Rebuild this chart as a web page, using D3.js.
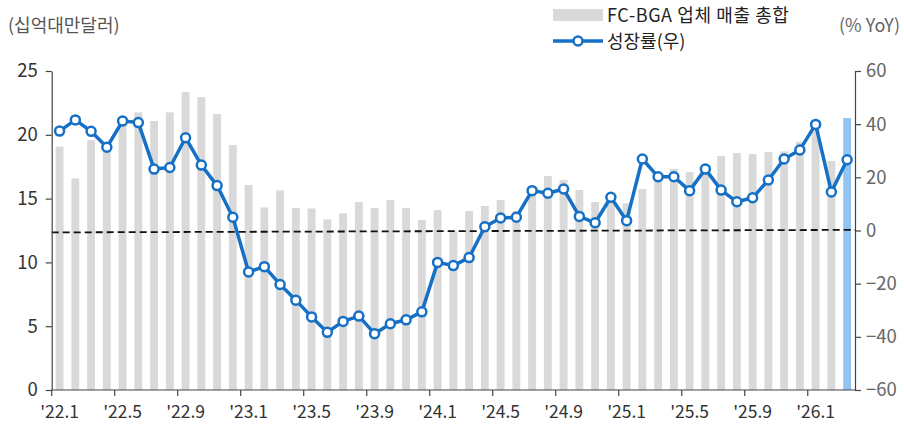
<!DOCTYPE html>
<html>
<head>
<meta charset="utf-8">
<script src="https://cdn.jsdelivr.net/npm/d3@7"></script>
<style>
  body { margin: 0; background: #fff; }
  svg text { font-family: "Noto Sans CJK KR", "Noto Sans", sans-serif; }
</style>
</head>
<body>
<svg id="chart" width="904" height="425"></svg>
<script>
// monthly categories '22.1 ~ '26.3
const months = [
  "'22.1","'22.2","'22.3","'22.4","'22.5","'22.6","'22.7","'22.8","'22.9","'22.10","'22.11","'22.12",
  "'23.1","'23.2","'23.3","'23.4","'23.5","'23.6","'23.7","'23.8","'23.9","'23.10","'23.11","'23.12",
  "'24.1","'24.2","'24.3","'24.4","'24.5","'24.6","'24.7","'24.8","'24.9","'24.10","'24.11","'24.12",
  "'25.1","'25.2","'25.3","'25.4","'25.5","'25.6","'25.7","'25.8","'25.9","'25.10","'25.11","'25.12",
  "'26.1","'26.2","'26.3"
];

// FC-BGA 업체 매출 총합 (십억대만달러)
const sales = [
  19.07, 16.59, 19.59, 19.3, 21.0, 21.76, 21.08, 21.76, 23.35, 22.96, 21.63, 19.2,
  16.07, 14.31, 15.64, 14.26, 14.23, 13.37, 13.85, 14.73, 14.26, 14.89, 14.26, 13.32,
  14.1, 12.42, 14.03, 14.42, 14.89, 14.03, 15.93, 16.77, 16.46, 15.67, 14.73, 15.0,
  14.63, 15.75, 16.85, 17.32, 17.08, 17.27, 18.34, 18.57, 18.49, 18.65, 18.7, 19.44,
  20.47, 17.95, 21.31
];

// 성장률 (% YoY)
const growth = [
  37.4, 41.6, 37.3, 31.3, 41.2, 40.6, 23.1, 23.7, 34.9, 24.6, 16.9, 5.0,
  -15.6, -13.6, -20.3, -26.2, -32.5, -38.3, -34.2, -32.2, -38.8, -35.1, -33.6, -30.6,
  -12.0, -13.2, -10.2, 1.4, 4.7, 5.0, 15.0, 14.0, 15.6, 5.3, 2.9, 12.5,
  3.7, 26.9, 20.2, 20.2, 15.0, 23.1, 15.2, 10.8, 12.3, 19.0, 26.9, 30.3,
  39.9, 14.5, 26.6
];

const xTickLabels = ["'22.1","'22.5","'22.9","'23.1","'23.5","'23.9","'24.1","'24.5","'24.9","'25.1","'25.5","'25.9","'26.1"];
const leftTicks = [0, 5, 10, 15, 20, 25];
const rightTicks = [-60, -40, -20, 0, 20, 40, 60];
// dashed reference line (left axis units, first and last month)
const refLine = [12.35, 12.55];

const svg = d3.select("#chart");
const mLeft = 51.7, mRight = 855, mTop = 71, mBottom = 390;

const x = d3.scaleBand().domain(months).range([mLeft, mRight])
  .paddingInner(0.5).paddingOuter(0.25);
const step = x.step();
const yL = d3.scaleLinear().domain([0, 25]).range([mBottom, mTop]);
const yR = d3.scaleLinear().domain([-60, 60]).range([mBottom, mTop]);
const cx = (m) => x(m) + x.bandwidth() / 2;

// bars
svg.append("g")
  .selectAll("rect")
  .data(sales)
  .join("rect")
  .attr("x", (d, i) => x(months[i]))
  .attr("y", (d) => yL(d))
  .attr("width", x.bandwidth())
  .attr("height", (d) => yL(0) - yL(d))
  .attr("fill", (d, i) => (i === sales.length - 1 ? "#92c4f2" : "#d9d9d9"));

// dashed line
svg.append("line")
  .attr("x1", mLeft).attr("x2", mRight)
  .attr("y1", yL(refLine[0])).attr("y2", yL(refLine[1]))
  .attr("stroke", "#111").attr("stroke-width", 1.8)
  .attr("stroke-dasharray", "7,4");

// left axis
const gL = svg.append("g").attr("transform", `translate(${mLeft},0)`)
  .call(d3.axisLeft(yL).tickValues(leftTicks).tickSize(6).tickPadding(8).tickSizeOuter(0));
gL.selectAll("text").attr("font-size", 18.5).attr("fill", "#333");

// right axis
const gR = svg.append("g").attr("transform", `translate(${mRight},0)`)
  .call(d3.axisRight(yR).tickValues(rightTicks).tickSize(6).tickPadding(5).tickSizeOuter(0));
gR.selectAll("text").attr("font-size", 18.5).attr("fill", "#666");

[gL, gR].forEach((g) => {
  g.select(".domain").attr("stroke", "#444").attr("stroke-width", 1.2);
  g.selectAll(".tick line").attr("stroke", "#444").attr("stroke-width", 1.2);
});

// bottom axis: ticks at band boundaries, labels at bar centres
const gB = svg.append("g");
gB.append("line")
  .attr("x1", mLeft).attr("x2", mRight)
  .attr("y1", mBottom).attr("y2", mBottom)
  .attr("stroke", "#444").attr("stroke-width", 1.2);
gB.selectAll(".xt")
  .data(xTickLabels)
  .join("line")
  .attr("class", "xt")
  .attr("x1", (d) => cx(d) - step / 2).attr("x2", (d) => cx(d) - step / 2)
  .attr("y1", mBottom).attr("y2", mBottom + 6)
  .attr("stroke", "#444").attr("stroke-width", 1.2);
gB.selectAll(".xl")
  .data(xTickLabels)
  .join("text")
  .attr("class", "xl")
  .attr("x", (d) => cx(d))
  .attr("y", 418)
  .attr("text-anchor", "middle")
  .attr("font-size", 17.5)
  .attr("fill", "#333")
  .text((d) => d);

// growth line
const line = d3.line().x((d, i) => cx(months[i])).y((d) => yR(d));
svg.append("path")
  .datum(growth)
  .attr("d", line)
  .attr("fill", "none")
  .attr("stroke", "#1570c6")
  .attr("stroke-width", 3.5)
  .attr("stroke-linejoin", "round");

svg.append("g")
  .selectAll("circle")
  .data(growth)
  .join("circle")
  .attr("cx", (d, i) => cx(months[i]))
  .attr("cy", (d) => yR(d))
  .attr("r", 4.5)
  .attr("fill", "#fff")
  .attr("stroke", "#1570c6")
  .attr("stroke-width", 2.5);

// unit labels
svg.append("text").attr("x", 8).attr("y", 32)
  .attr("font-size", 18).attr("fill", "#555").text("(십억대만달러)");
svg.append("text").attr("x", 900).attr("y", 32).attr("text-anchor", "end")
  .attr("font-size", 18).attr("fill", "#666").text("(% YoY)");

// legend
const lg = svg.append("g");
lg.append("rect").attr("x", 553).attr("y", 9).attr("width", 50).attr("height", 12).attr("fill", "#d9d9d9");
lg.append("text").attr("x", 607).attr("y", 22).attr("font-size", 18).attr("letter-spacing", 0.6)
  .attr("fill", "#222").text("FC-BGA 업체 매출 총합");
lg.append("line").attr("x1", 553).attr("x2", 603).attr("y1", 41).attr("y2", 41)
  .attr("stroke", "#1570c6").attr("stroke-width", 3.5);
lg.append("circle").attr("cx", 578).attr("cy", 41).attr("r", 4.5)
  .attr("fill", "#fff").attr("stroke", "#1570c6").attr("stroke-width", 2.5);
lg.append("text").attr("x", 607).attr("y", 48).attr("font-size", 18).attr("fill", "#222").text("성장률(우)");
</script>
</body>
</html>
